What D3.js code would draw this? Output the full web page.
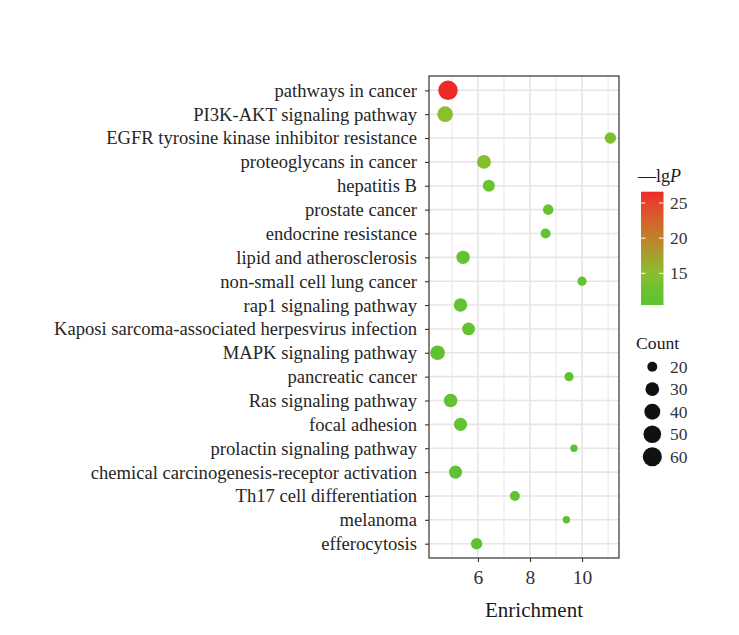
<!DOCTYPE html>
<html>
<head>
<meta charset="utf-8">
<script src="https://cdn.jsdelivr.net/npm/d3@7"></script>
<style>
  body { margin: 0; background: #fff; }
  text { font-family: "Liberation Serif", "Times New Roman", serif; }
</style>
</head>
<body>
<svg id="chart" width="739" height="635"></svg>
<script>
// pathways, top to bottom
const pathways = [
  'pathways in cancer',
  'PI3K-AKT signaling pathway',
  'EGFR tyrosine kinase inhibitor resistance',
  'proteoglycans in cancer',
  'hepatitis B',
  'prostate cancer',
  'endocrine resistance',
  'lipid and atherosclerosis',
  'non-small cell lung cancer',
  'rap1 signaling pathway',
  'Kaposi sarcoma-associated herpesvirus infection',
  'MAPK signaling pathway',
  'pancreatic cancer',
  'Ras signaling pathway',
  'focal adhesion',
  'prolactin signaling pathway',
  'chemical carcinogenesis-receptor activation',
  'Th17 cell differentiation',
  'melanoma',
  'efferocytosis'
]
const enrichment = [4.85, 4.74, 11.09, 6.23, 6.42, 8.70, 8.60, 5.43, 10.0, 5.33,
                    5.64, 4.45, 9.50, 4.95, 5.33, 9.69, 5.14, 7.42, 9.40, 5.95]
const counts = [62, 39, 23, 31, 25, 21, 20, 29, 19, 29,
                27, 34, 19, 30, 28, 18, 28, 20, 18, 23]
const lgP = [26.6, 15.0, 14.0, 14.4, 12.4, 11.5, 11.3, 11.6, 11.2, 11.4,
             11.3, 11.0, 10.9, 11.2, 11.1, 10.7, 11.0, 10.8, 10.5, 10.9]

const xTicks = [6, 8, 10]
const xMinor = [5, 7, 9, 11]
const colorTicks = [15, 20, 25]
const countKeys = [20, 30, 40, 50, 60]

// colour ramp (low -> high)
const rampStops = [0, 0.16, 0.28, 0.44, 0.59, 0.75, 0.9, 1]
const rampColors = ['#5dc232', '#6fc230', '#8cbe2d', '#a5a02c', '#bf822a', '#d4622a', '#e6422a', '#ee2a26']

const svg = d3.select('#chart')
const panel = {left: 429, right: 619, top: 76, bottom: 558}

const x = d3.scaleLinear().domain([4.12, 11.42]).range([panel.left, panel.right])
const y = d3.scalePoint().domain(pathways).range([panel.top, panel.bottom]).padding(0.6)

const lgpMin = d3.min(lgP), lgpMax = d3.max(lgP)
const color = d3.scaleLinear()
    .domain(rampStops.map(t => lgpMin + t * (lgpMax - lgpMin)))
    .range(rampColors)
    .interpolate(d3.interpolateRgb)

// size like ggplot's area scale: rmin at min count, rmax at max count
const countMin = d3.min(counts), countMax = d3.max(counts)
const rMin = 3.7, rMax = 9.7
const rScale = d3.scaleSqrt().domain([0, countMax - countMin]).range([0, rMax - rMin])
const radius = c => rMin + rScale(Math.max(0, c - countMin))

const data = pathways.map((p, i) => ({name: p, x: enrichment[i], n: counts[i], p: lgP[i]}))

// grid
const grid = svg.append('g')
grid.selectAll('.minor').data(xMinor).enter().append('line')
    .attr('x1', d => x(d)).attr('x2', d => x(d))
    .attr('y1', panel.top).attr('y2', panel.bottom)
    .attr('stroke', '#ececec').attr('stroke-width', 1.3)
grid.selectAll('.major').data(xTicks).enter().append('line')
    .attr('x1', d => x(d)).attr('x2', d => x(d))
    .attr('y1', panel.top).attr('y2', panel.bottom)
    .attr('stroke', '#e6e6e6').attr('stroke-width', 1.6)
grid.selectAll('.row').data(pathways).enter().append('line')
    .attr('x1', panel.left).attr('x2', panel.right)
    .attr('y1', d => y(d)).attr('y2', d => y(d))
    .attr('stroke', '#e6e6e6').attr('stroke-width', 1.6)

// points
svg.append('g').selectAll('circle')
    .data(data)
    .enter()
    .append('circle')
    .attr('cx', d => x(d.x))
    .attr('cy', d => y(d.name))
    .attr('r', d => radius(d.n))
    .attr('fill', d => color(d.p))

// panel border
svg.append('rect')
    .attr('x', panel.left).attr('y', panel.top)
    .attr('width', panel.right - panel.left).attr('height', panel.bottom - panel.top)
    .attr('fill', 'none').attr('stroke', '#333').attr('stroke-width', 1.2)

// axes
const xAxis = svg.append('g')
    .attr('transform', 'translate(0,' + panel.bottom + ')')
    .call(d3.axisBottom(x).tickValues(xTicks).tickSize(4).tickPadding(8))
    .attr('font-family', '"Liberation Serif", serif')
xAxis.select('.domain').remove()
xAxis.selectAll('line').attr('stroke', '#333').attr('stroke-width', 1.1)
xAxis.selectAll('text')
    .style('font-size', '19.5px')
    .attr('fill', '#333')

const yAxis = svg.append('g')
    .attr('transform', 'translate(' + panel.left + ',0)')
    .call(d3.axisLeft(y).tickSize(4).tickPadding(8))
    .attr('font-family', '"Liberation Serif", serif')
yAxis.select('.domain').remove()
yAxis.selectAll('line').attr('stroke', '#333').attr('stroke-width', 1.1)
yAxis.selectAll('text')
    .style('font-size', '18.6px')
    .attr('fill', '#262626')

svg.append('text')
    .attr('x', 534).attr('y', 617)
    .attr('text-anchor', 'middle')
    .style('font-size', '21px')
    .attr('fill', '#1a1a1a')
    .text('Enrichment')

// colour bar legend
const bar = {x: 641, w: 22.5, top: 191.7, bottom: 305}
const cy = d3.scaleLinear().domain([lgpMin, lgpMax]).range([bar.bottom, bar.top])

const grad = svg.append('defs').append('linearGradient')
    .attr('id', 'lgp-grad')
    .attr('x1', 0).attr('y1', 1).attr('x2', 0).attr('y2', 0)
d3.range(0, 1.001, 0.05).forEach(t => {
    grad.append('stop')
        .attr('offset', t)
        .attr('stop-color', color(lgpMin + t * (lgpMax - lgpMin)))
})
svg.append('rect')
    .attr('x', bar.x).attr('y', bar.top)
    .attr('width', bar.w).attr('height', bar.bottom - bar.top)
    .attr('fill', 'url(#lgp-grad)')

const cticks = svg.append('g')
colorTicks.forEach(v => {
    cticks.append('line')
        .attr('x1', bar.x).attr('x2', bar.x + 4.5)
        .attr('y1', cy(v)).attr('y2', cy(v))
        .attr('stroke', '#fff').attr('stroke-width', 1)
    cticks.append('line')
        .attr('x1', bar.x + bar.w - 4.5).attr('x2', bar.x + bar.w)
        .attr('y1', cy(v)).attr('y2', cy(v))
        .attr('stroke', '#fff').attr('stroke-width', 1)
    cticks.append('text')
        .attr('x', 670).attr('y', cy(v))
        .attr('dy', '0.35em')
        .style('font-size', '17.5px')
        .attr('fill', '#333')
        .text(v)
})

const ctitle = svg.append('text')
    .attr('x', 638).attr('y', 182)
    .style('font-size', '18px')
    .attr('fill', '#1a1a1a')
ctitle.append('tspan').text('\u2014lg')
ctitle.append('tspan').style('font-style', 'italic').text('P')

// size legend
svg.append('text')
    .attr('x', 636).attr('y', 349)
    .style('font-size', '17.7px')
    .attr('fill', '#1a1a1a')
    .text('Count')

const keyY = d3.scalePoint().domain(countKeys).range([366.7, 456.7])
const keys = svg.append('g').selectAll('g')
    .data(countKeys)
    .enter()
    .append('g')
    .attr('transform', d => 'translate(0,' + keyY(d) + ')')
keys.append('circle')
    .attr('cx', 652.3).attr('cy', 0)
    .attr('r', d => radius(d))
    .attr('fill', '#111')
keys.append('text')
    .attr('x', 670).attr('dy', '0.35em')
    .style('font-size', '17.5px')
    .attr('fill', '#333')
    .text(d => d)
</script>
</body>
</html>
